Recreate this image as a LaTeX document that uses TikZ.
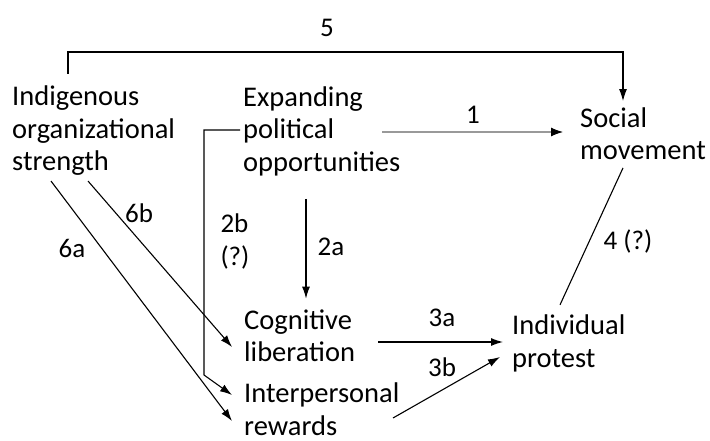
\documentclass[tikz,border=0pt]{standalone}
\usepackage{fontspec}
\setmainfont{Carlito}
\usetikzlibrary{arrows.meta,calc}

\begin{document}
\begin{tikzpicture}[x=1pt,y=-1pt]
    % `factor' is used for the text blocks, `tag' for the path numbers.
    % `link' is the usual black arrow.
    \tikzstyle{factor} = [anchor=west,align=left,inner sep=0pt,font=\fontsize{28.5}{32.5}\selectfont]
    \tikzstyle{tag} = [inner sep=0pt,font=\fontsize{27}{33}\selectfont]
    \tikzstyle{link} = [line width=1.1pt,-{Latex[length=12pt,width=8pt]}]
    \tikzstyle{plain} = [line width=1.1pt]
    \useasboundingbox (0,0) rectangle (710,441);
    %
    \node[factor] (ios) at (12,131) {Indigenous\\organizational\\strength};
    \node[factor] (exp) at (243,131) {Expanding\\political\\opportunities};
    \node[factor] (soc) at (580,133.5) {Social\\movement};
    \node[factor] (cog) at (244,336) {Cognitive\\liberation};
    \node[factor] (ir) at (244,409) {Interpersonal\\rewards};
    \node[factor] (ip) at (512,343.5) {Individual\\protest};
    %
    \node[tag] (l5) at (327,28) {5};
    \node[tag] (l1) at (473,115) {1};
    \node[tag] (l2a) at (331,247) {2a};
    \node[tag,align=left] (l2b) at (235,241) {2b\\(?)};
    \node[tag] (l6b) at (139,213) {6b};
    \node[tag] (l6a) at (72,248) {6a};
    \node[tag] (l3a) at (442,318) {3a};
    \node[tag] (l3b) at (442,367) {3b};
    \node[tag] (l4) at (628,241) {4 (?)};
    %
    % Draw arrows.
    \draw[link] ($(ios.north west)+(56,-12)$) |- ($(soc.north west)+(43,-55)$)
                -- ($(soc.north west)+(43,-6)$);
    \draw[line width=2.6pt,black!40] ($(exp.west)+(139,1)$) -- ($(soc.west)+(-28,-1.5)$);
    \draw[-{Latex[length=12pt,width=9pt]},line width=1pt]
                ($(soc.west)+(-29,-1.5)$) -- ($(soc.west)+(-17,-1.5)$);
    \draw[link] ($(exp.south west)+(63,23)$) -- ($(cog.north west)+(62,-11)$);
    \draw[link] ($(exp.west)+(-3,-1)$) -- ++(-36,0) -- ++(0,245) -- ($(ir.west)+(-12,-14)$);
    \draw[link] ($(ios.south west)+(76,5)$) -- ($(cog.west)+(-12,11)$);
    \draw[link] ($(ios.south west)+(39,5)$) -- ($(ir.west)+(-12,12)$);
    \draw[link] ($(cog.west)+(134,6)$) -- ($(ip.west)+(-9,-1.5)$);
    \draw[link] ($(ir.west)+(149,9)$) -- ($(ip.west)+(-12,13.5)$);
    \draw[plain] ($(soc.south west)+(43,8)$) -- ($(ip.north west)+(48,-10)$);
\end{tikzpicture}
\end{document}
